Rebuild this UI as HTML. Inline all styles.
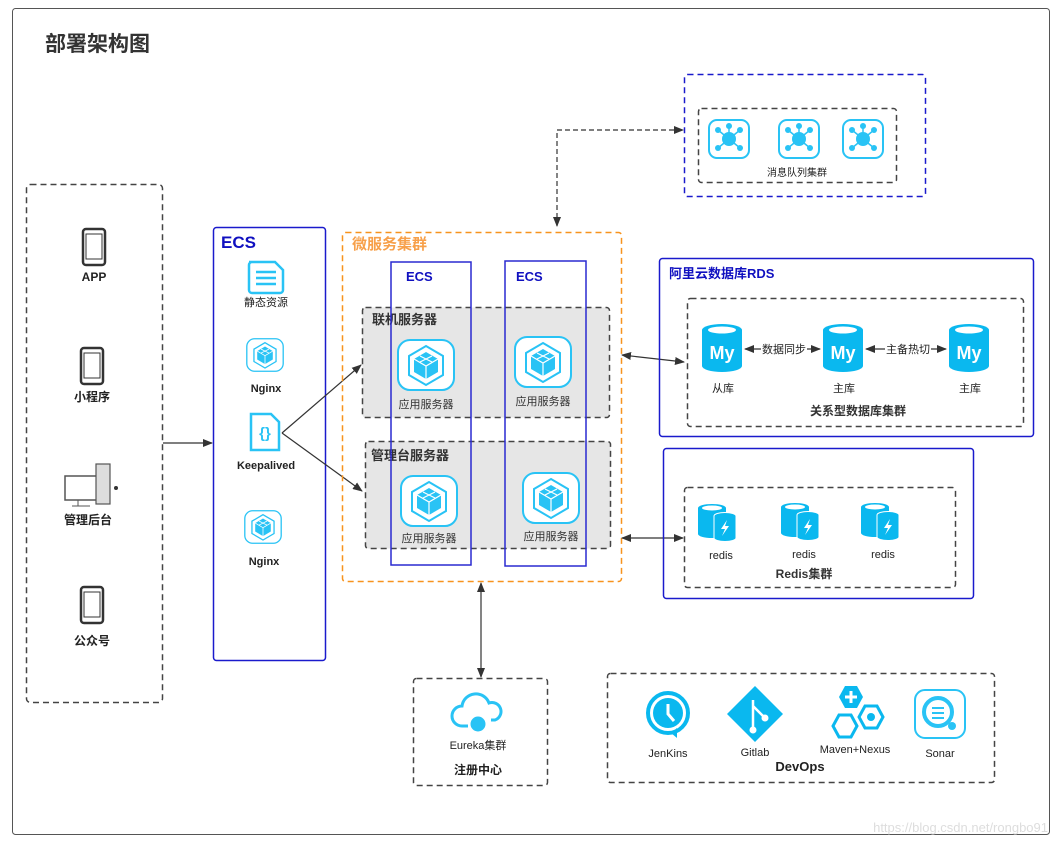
<!DOCTYPE html>
<html><head><meta charset="utf-8"><style>
body{margin:0;background:#fff;}
svg text{font-family:"Liberation Sans","Noto Sans CJK SC",sans-serif;}
</style></head><body>
<svg width="1061" height="846" viewBox="0 0 1061 846" xmlns="http://www.w3.org/2000/svg">
<defs>
<marker id="a" markerWidth="10" markerHeight="8" refX="9" refY="4" orient="auto-start-reverse" markerUnits="userSpaceOnUse"><path d="M0,0 L10,4 L0,8 Z" fill="#333"/></marker>
<g id="phone"><rect x="-11" y="-18" width="22" height="36" rx="3" fill="#fff" stroke="#333" stroke-width="2.5"/><rect x="-8" y="-13" width="16" height="25" fill="#fff" stroke="#333" stroke-width="1"/></g>
<g id="app"><rect x="-28" y="-25" width="56" height="50" rx="12" fill="#fff" stroke="#29c3f5" stroke-width="2"/><path d="M0,-19 L17,-9 L17,10 L0,20 L-17,10 L-17,-9 Z" fill="#fff" stroke="#29c3f5" stroke-width="2"/><path d="M0,-13 L12,-6 L12,7 L0,14 L-12,7 L-12,-6 Z" fill="#29c3f5"/><path d="M-12,-6 L0,1 L12,-6 M0,1 L0,14 M-6,-9 L6,-3 M6,-9 L-6,-3" stroke="#fff" stroke-width="1.2" fill="none"/></g>
<g id="my"><path d="M-20,-20 a20,6 0 0 1 40,0 v36 a20,6 0 0 1 -40,0 Z" fill="#0ab8ef"/><ellipse cx="0" cy="-20" rx="14" ry="3.5" fill="#fff"/><text x="0" y="9" text-anchor="middle" font-size="18" font-weight="bold" fill="#fff">My</text></g>
<g id="redis"><path d="M-22,-14 a14,4 0 0 1 28,0 v26 a14,4 0 0 1 -28,0 Z" fill="#0ab8ef"/><ellipse cx="-8" cy="-14" rx="10" ry="2.5" fill="#fff"/><path d="M-6,-6 a11,3.5 0 0 1 22,0 v22 a11,3.5 0 0 1 -22,0 Z" fill="#0ab8ef" stroke="#fff" stroke-width="1"/><path d="M7,-2 L1,7 L5,7 L2,14 L9,4 L5,4 Z" fill="#fff"/></g>
<g id="mq"><rect x="-20" y="-19" width="40" height="38" rx="8" fill="#fff" stroke="#29c3f5" stroke-width="2"/><circle r="7" fill="#29c3f5"/><g fill="#29c3f5"><circle cx="-11" cy="-9" r="3"/><circle cx="11" cy="-9" r="3"/><circle cx="-11" cy="9" r="3"/><circle cx="11" cy="9" r="3"/><circle cx="0" cy="-13" r="3"/></g><path d="M-11,-9 L11,9 M11,-9 L-11,9 M0,-13 V0" stroke="#29c3f5" stroke-width="1.5"/></g>
</defs>
<rect x="12.5" y="8.5" width="1037" height="826" rx="3" fill="#fff" stroke="#555" stroke-width="1"/>
<text x="45" y="51" font-size="21" font-weight="bold" fill="#333">部署架构图</text>

<!-- clients -->
<rect x="26.5" y="184.5" width="136" height="518" rx="4" fill="none" stroke="#444" stroke-width="1.5" stroke-dasharray="6,4"/>
<use href="#phone" x="94" y="247"/><text x="94" y="281" text-anchor="middle" font-size="12" font-weight="bold" fill="#222">APP</text>
<use href="#phone" x="92" y="366"/><text x="92" y="401" text-anchor="middle" font-size="12" font-weight="bold" fill="#222">小程序</text>
<g transform="translate(88,488)"><rect x="-23" y="-12" width="34" height="24" fill="#fff" stroke="#555" stroke-width="1.5"/><rect x="8" y="-24" width="14" height="40" fill="#ddd" stroke="#555" stroke-width="1.2"/><path d="M-10,12 v6 h-6 h18" stroke="#555" fill="none"/><circle cx="28" cy="0" r="2" fill="#333"/></g>
<text x="88" y="524" text-anchor="middle" font-size="12" font-weight="bold" fill="#222">管理后台</text>
<use href="#phone" x="92" y="605"/><text x="92" y="645" text-anchor="middle" font-size="12" font-weight="bold" fill="#222">公众号</text>
<line x1="163" y1="443" x2="212" y2="443" stroke="#333" stroke-width="1.2" marker-end="url(#a)"/>

<!-- ECS left -->
<rect x="213.5" y="227.5" width="112" height="433" rx="3" fill="none" stroke="#1a1acc" stroke-width="1.5"/>
<text x="221" y="248" font-size="17" font-weight="bold" fill="#1010c0">ECS</text>
<g transform="translate(266,276)"><path d="M-17,-14 h26 l8,8 v20 a3,3 0 0 1 -3,3 h-28 a3,3 0 0 1 -3,-3 v-25 a3,3 0 0 1 3,-3 Z" fill="#fff" stroke="#29c3f5" stroke-width="2.5"/><path d="M-10,-4 h20 M-10,2 h20 M-10,8 h20" stroke="#29c3f5" stroke-width="2.5"/></g>
<text x="266" y="306" text-anchor="middle" font-size="11" fill="#222">静态资源</text>
<g transform="translate(265,355) scale(0.65)"><use href="#app"/></g>
<text x="266" y="392" text-anchor="middle" font-size="11" font-weight="bold" fill="#222">Nginx</text>
<g transform="translate(265,432)"><path d="M-14,-18 h20 l8,8 v28 h-28 Z" fill="#fff" stroke="#29c3f5" stroke-width="2.5"/><text x="0" y="6" text-anchor="middle" font-size="15" font-weight="bold" fill="#29c3f5">{}</text></g>
<text x="266" y="469" text-anchor="middle" font-size="11" font-weight="bold" fill="#222">Keepalived</text>
<g transform="translate(263,527) scale(0.65)"><use href="#app"/></g>
<text x="264" y="565" text-anchor="middle" font-size="11" font-weight="bold" fill="#222">Nginx</text>
<line x1="282" y1="433" x2="361" y2="365" stroke="#333" stroke-width="1.2" marker-end="url(#a)"/>
<line x1="282" y1="433" x2="362" y2="491" stroke="#333" stroke-width="1.2" marker-end="url(#a)"/>

<!-- microservice -->
<rect x="342.5" y="232.5" width="279" height="349" rx="3" fill="none" stroke="#f7931e" stroke-width="1.5" stroke-dasharray="6,4"/>
<text x="352" y="249" font-size="15" font-weight="bold" fill="#f7a04a">微服务集群</text>
<rect x="362.5" y="307.5" width="247" height="110" rx="3" fill="#e6e6e6" stroke="#444" stroke-width="1.5" stroke-dasharray="6,4"/>
<rect x="365.5" y="441.5" width="245" height="107" rx="3" fill="#e6e6e6" stroke="#444" stroke-width="1.5" stroke-dasharray="6,4"/>
<text x="372" y="324" font-size="13" font-weight="bold" fill="#333">联机服务器</text>
<text x="371" y="460" font-size="13" font-weight="bold" fill="#333">管理台服务器</text>
<use href="#app" x="426" y="365"/><text x="426" y="408" text-anchor="middle" font-size="11" fill="#333">应用服务器</text>
<use href="#app" x="543" y="362"/><text x="543" y="405" text-anchor="middle" font-size="11" fill="#333">应用服务器</text>
<use href="#app" x="429" y="501"/><text x="429" y="542" text-anchor="middle" font-size="11" fill="#333">应用服务器</text>
<use href="#app" x="551" y="498"/><text x="551" y="540" text-anchor="middle" font-size="11" fill="#333">应用服务器</text>
<rect x="391" y="262" width="80" height="303" fill="none" stroke="#2a2ad0" stroke-width="1.5"/>
<rect x="505" y="261" width="81" height="305" fill="none" stroke="#2a2ad0" stroke-width="1.5"/>
<text x="406" y="281" font-size="13" font-weight="bold" fill="#1010c0">ECS</text>
<text x="516" y="281" font-size="13" font-weight="bold" fill="#1010c0">ECS</text>

<!-- MQ -->
<path d="M557,226 V130 H683" fill="none" stroke="#333" stroke-width="1.2" stroke-dasharray="5,3" marker-start="url(#a)" marker-end="url(#a)"/>
<rect x="684.5" y="74.5" width="241" height="122" rx="3" fill="none" stroke="#1a1acc" stroke-width="1.5" stroke-dasharray="6,4"/>
<rect x="698.5" y="108.5" width="198" height="74" rx="3" fill="none" stroke="#444" stroke-width="1.5" stroke-dasharray="6,4"/>
<use href="#mq" x="729" y="139"/><use href="#mq" x="799" y="139"/><use href="#mq" x="863" y="139"/>
<text x="797" y="176" text-anchor="middle" font-size="10" fill="#222">消息队列集群</text>

<!-- RDS -->
<line x1="622" y1="355" x2="684" y2="362" stroke="#333" stroke-width="1.2" marker-start="url(#a)" marker-end="url(#a)"/>
<rect x="659.5" y="258.5" width="374" height="178" rx="3" fill="none" stroke="#1a1acc" stroke-width="1.5"/>
<text x="669" y="278" font-size="13" font-weight="bold" fill="#1010c0">阿里云数据库RDS</text>
<rect x="687.5" y="298.5" width="336" height="128" rx="3" fill="none" stroke="#444" stroke-width="1.5" stroke-dasharray="6,4"/>
<use href="#my" x="722" y="350"/><use href="#my" x="843" y="350"/><use href="#my" x="969" y="350"/>
<line x1="745" y1="349" x2="820" y2="349" stroke="#333" stroke-width="1.2" marker-start="url(#a)" marker-end="url(#a)"/>
<line x1="866" y1="349" x2="946" y2="349" stroke="#333" stroke-width="1.2" marker-start="url(#a)" marker-end="url(#a)"/>
<rect x="761" y="342" width="46" height="14" fill="#fff"/><text x="784" y="353" text-anchor="middle" font-size="11" fill="#222">数据同步</text>
<rect x="885" y="342" width="46" height="14" fill="#fff"/><text x="908" y="353" text-anchor="middle" font-size="11" fill="#222">主备热切</text>
<text x="723" y="392" text-anchor="middle" font-size="11" fill="#222">从库</text>
<text x="844" y="392" text-anchor="middle" font-size="11" fill="#222">主库</text>
<text x="970" y="392" text-anchor="middle" font-size="11" fill="#222">主库</text>
<text x="858" y="415" text-anchor="middle" font-size="12" font-weight="bold" fill="#333">关系型数据库集群</text>

<!-- Redis -->
<line x1="622" y1="538" x2="683" y2="538" stroke="#333" stroke-width="1.2" marker-start="url(#a)" marker-end="url(#a)"/>
<rect x="663.5" y="448.5" width="310" height="150" rx="3" fill="none" stroke="#1a1acc" stroke-width="1.5"/>
<rect x="684.5" y="487.5" width="271" height="100" rx="3" fill="none" stroke="#444" stroke-width="1.5" stroke-dasharray="6,4"/>
<use href="#redis" x="720" y="522"/><use href="#redis" x="803" y="521"/><use href="#redis" x="883" y="521"/>
<text x="721" y="559" text-anchor="middle" font-size="11" fill="#222">redis</text>
<text x="804" y="558" text-anchor="middle" font-size="11" fill="#222">redis</text>
<text x="883" y="558" text-anchor="middle" font-size="11" fill="#222">redis</text>
<text x="804" y="578" text-anchor="middle" font-size="12" font-weight="bold" fill="#333">Redis集群</text>

<!-- Eureka -->
<line x1="481" y1="583" x2="481" y2="677" stroke="#333" stroke-width="1.2" marker-start="url(#a)" marker-end="url(#a)"/>
<rect x="413.5" y="678.5" width="134" height="107" rx="3" fill="none" stroke="#444" stroke-width="1.5" stroke-dasharray="6,4"/>
<g transform="translate(478,712)" fill="none" stroke="#29c3f5" stroke-width="3"><path d="M-10,14 h-6 a10,10 0 0 1 0,-20 a14,14 0 0 1 27,-3 a9,9 0 0 1 6,17 h-4"/><circle cx="0" cy="12" r="6" fill="#29c3f5"/></g>
<text x="478" y="749" text-anchor="middle" font-size="11" fill="#222">Eureka集群</text>
<text x="478" y="774" text-anchor="middle" font-size="12" font-weight="bold" fill="#222">注册中心</text>

<!-- DevOps -->
<rect x="607.5" y="673.5" width="387" height="109" rx="3" fill="none" stroke="#444" stroke-width="1.5" stroke-dasharray="6,4"/>
<g transform="translate(668,713)"><circle r="20" fill="none" stroke="#0ab8ef" stroke-width="4"/><circle r="15" fill="#0ab8ef"/><path d="M0,-9 V1 L6,8" stroke="#fff" stroke-width="3" fill="none"/><path d="M3,20 l6,-5 v10 Z" fill="#0ab8ef"/></g>
<text x="668" y="757" text-anchor="middle" font-size="11" fill="#222">JenKins</text>
<g transform="translate(755,714)"><path d="M0,-28 L28,0 L0,28 L-28,0 Z" fill="#0ab8ef"/><path d="M-2,-14 V16 M-2,-8 L10,4" stroke="#fff" stroke-width="2.5"/><circle cx="-2" cy="16" r="3.5" fill="#fff"/><circle cx="10" cy="4" r="3.5" fill="#fff"/></g>
<text x="755" y="756" text-anchor="middle" font-size="11" fill="#222">Gitlab</text>
<g transform="translate(855,712)"><path d="M-10,-26 h12 l6,11 l-6,11 h-12 l-6,-11 Z" fill="#0ab8ef"/><path d="M-4,-21 v12 M-10,-15 h12" stroke="#fff" stroke-width="3"/><path d="M10,-6 h12 l6,11 l-6,11 h-12 l-6,-11 Z" fill="#fff" stroke="#0ab8ef" stroke-width="3"/><circle cx="16" cy="5" r="4" fill="#0ab8ef"/><path d="M-16,3 h12 l6,11 l-6,11 h-12 l-6,-11 Z" fill="#fff" stroke="#0ab8ef" stroke-width="3"/></g>
<text x="855" y="753" text-anchor="middle" font-size="11" fill="#222">Maven+Nexus</text>
<g transform="translate(940,714)"><rect x="-25" y="-24" width="50" height="48" rx="10" fill="#fff" stroke="#29c3f5" stroke-width="2"/><circle cx="-2" cy="-2" r="14" fill="none" stroke="#29c3f5" stroke-width="4"/><circle cx="12" cy="12" r="4" fill="#29c3f5"/><path d="M-8,-6 h12 M-8,-1 h12 M-8,4 h12" stroke="#29c3f5" stroke-width="2"/></g>
<text x="940" y="757" text-anchor="middle" font-size="11" fill="#222">Sonar</text>
<text x="800" y="771" text-anchor="middle" font-size="13" font-weight="bold" fill="#222">DevOps</text>

<text x="1048" y="832" text-anchor="end" font-size="13" fill="#ddd">https://blog.csdn.net/rongbo91</text>
</svg>
</body></html>
